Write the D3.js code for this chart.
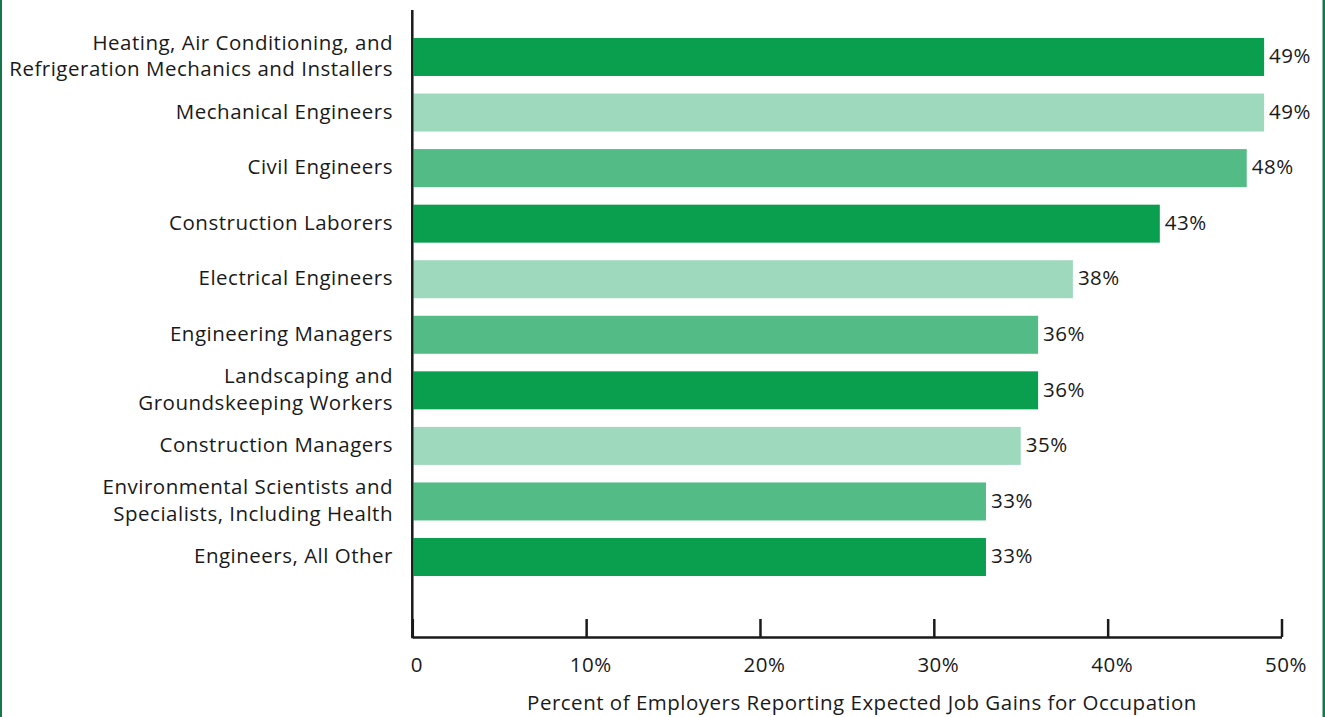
<!DOCTYPE html>
<html>
<head>
<meta charset="utf-8">
<script src="https://cdn.jsdelivr.net/npm/d3@7/dist/d3.min.js"></script>
<style>
  html, body { margin: 0; padding: 0; background: #fff; }
  svg { display: block; }
  text { font-family: "Open Sans", "Noto Sans", sans-serif; fill: #1a1a1a; letter-spacing: 0.5px; }
</style>
</head>
<body>
<svg id="chart" width="1325" height="717"></svg>
<script>
// Occupations (top to bottom), each label split into its display lines
const occupations = [
  ["Heating, Air Conditioning, and", "Refrigeration Mechanics and Installers"],
  ["Mechanical Engineers"],
  ["Civil Engineers"],
  ["Construction Laborers"],
  ["Electrical Engineers"],
  ["Engineering Managers"],
  ["Landscaping and", "Groundskeeping Workers"],
  ["Construction Managers"],
  ["Environmental Scientists and", "Specialists, Including Health"],
  ["Engineers, All Other"]
];
const percentages = [49, 49, 48, 43, 38, 36, 36, 35, 33, 33];
const tickValues = [0, 10, 20, 30, 40, 50];
const tickLabels = ["0", "10%", "20%", "30%", "40%", "50%"];
const barColors = ["#0a9e4f", "#9fd9bd", "#53bb85"];
const axisTitle = "Percent of Employers Reporting Expected Job Gains for Occupation";

const svg = d3.select("#chart");
const fontSize = 20.5;

// Frame lines on the left and right edges
svg.append("rect").attr("x", 0).attr("y", 0).attr("width", 2).attr("height", 717).attr("fill", "#16784a");
svg.append("rect").attr("x", 1322.5).attr("y", 0).attr("width", 2.5).attr("height", 717).attr("fill", "#16784a");

const x0 = 412.3, x1 = 1281.5, yTop = 10, yAxis = 637;

const x = d3.scaleLinear().domain([0, 50]).range([x0, x1]);
const rows = d3.range(occupations.length);
const y = d3.scaleBand()
  .domain(rows)
  .range([29.2, 584.8])
  .paddingInner(0.316)
  .paddingOuter(0.158);

// Bars
svg.append("g").selectAll("rect")
  .data(rows)
  .join("rect")
  .attr("x", x0 + 1.2)
  .attr("y", i => y(i))
  .attr("width", i => x(percentages[i]) - x0 - 1.2)
  .attr("height", y.bandwidth())
  .attr("fill", i => barColors[i % 3]);

// Value labels
svg.append("g").selectAll("text")
  .data(rows)
  .join("text")
  .attr("x", i => x(percentages[i]) + 5)
  .attr("y", i => y(i) + y.bandwidth() / 2 - 1)
  .attr("dy", "0.35em")
  .attr("font-size", fontSize)
  .text(i => percentages[i] + "%");

// Category labels, right-aligned beside the axis
const lineH = 26.5;
const cat = svg.append("g").selectAll("text")
  .data(rows)
  .join("text")
  .attr("text-anchor", "end")
  .attr("font-size", fontSize)
  .attr("y", i => y(i) + y.bandwidth() / 2 - 1 - (occupations[i].length - 1) * lineH / 2);
cat.selectAll("tspan")
  .data(i => occupations[i].map((t, k) => ({ t, k })))
  .join("tspan")
  .attr("x", 393)
  .attr("dy", d => d.k === 0 ? "0.35em" : lineH)
  .text(d => d.t);

// X axis with upward ticks
const xAxis = d3.axisBottom(x)
  .tickValues(tickValues)
  .tickSize(-18)
  .tickSizeOuter(0)
  .tickFormat((d, i) => tickLabels[i]);
const gx = svg.append("g")
  .attr("transform", `translate(0,${yAxis})`)
  .call(xAxis);
gx.select(".domain").attr("stroke", "#1a1a1a").attr("stroke-width", 2.5);
gx.selectAll(".tick line").attr("stroke", "#1a1a1a").attr("stroke-width", 2.5);
gx.selectAll(".tick text")
  .attr("y", 28)
  .attr("dx", 4)
  .attr("dy", "0.35em")
  .attr("font-size", fontSize)
  .attr("font-family", "'Open Sans', 'Noto Sans', sans-serif")
  .attr("fill", "#1a1a1a");

// Y axis line
svg.append("line")
  .attr("x1", x0).attr("x2", x0)
  .attr("y1", yTop).attr("y2", yAxis + 1.25)
  .attr("stroke", "#1a1a1a").attr("stroke-width", 2.5);

// Axis title
svg.append("text")
  .attr("x", 862)
  .attr("y", 703)
  .attr("dy", "0.35em")
  .attr("text-anchor", "middle")
  .attr("font-size", fontSize)
  .text(axisTitle);
</script>
</body>
</html>
